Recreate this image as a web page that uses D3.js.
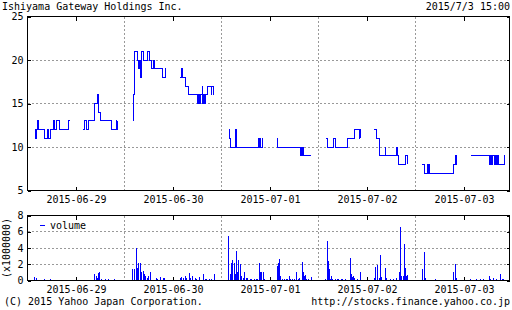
<!DOCTYPE html>
<html><head><meta charset="utf-8">
<script src="https://cdn.jsdelivr.net/npm/d3@7"></script>
<style>
html,body{margin:0;padding:0;background:#fff;}
svg{display:block;}
text{font-family:"DejaVu Sans Mono","Liberation Mono",monospace;font-size:10px;fill:#000;}
</style></head>
<body><svg id="c" width="512" height="310"></svg>
<script>
const title = "Ishiyama Gateway Holdings Inc.";
const stamp = "2015/7/3 15:00";
const days = ["2015-06-29","2015-06-30","2015-07-01","2015-07-02","2015-07-03"];
const priceTicks = [5,10,15,20,25];
const volTicks = [0,2,4,6,8];
const volUnit = "(x1000000)";
const copyright = "(C) 2015 Yahoo Japan Corporation.";
const url = "http://stocks.finance.yahoo.co.jp";

// price: [fraction of day, price]; null = lunch break gap
const price0629 = [[0.075,12],[0.082,11],[0.090,12],[0.108,13],[0.116,12],[0.178,11],[0.202,12],[0.220,11],[0.240,12],[0.268,13],[0.275,12],[0.299,13],[0.333,12],[0.423,13],[0.433,13],
 null,[0.570,12],[0.591,13],[0.605,12],[0.629,13],[0.688,15],[0.718,16],[0.728,14],[0.749,13],[0.866,12],[0.914,13],[0.921,12],[0.925,13]];
const price0630 = [[0.084,13],[0.088,16],[0.106,21],[0.134,20],[0.144,19],[0.150,20],[0.155,19],[0.160,20],[0.165,19],[0.170,18],[0.175,20],[0.178,21],[0.199,20],[0.237,21],[0.258,20],[0.278,19],[0.299,20],[0.306,19],[0.392,18],[0.423,19],[0.428,19],
 null,[0.570,18],[0.591,19],[0.598,18],[0.626,17],[0.657,16],[0.749,15],[0.756,16],[0.761,15],[0.768,16],[0.773,15],[0.779,16],[0.801,15],[0.804,17],[0.808,15],[0.811,16],[0.815,15],[0.818,16],[0.823,15],[0.830,16],[0.859,17],[0.892,16],[0.897,17],[0.918,16],[0.921,16]];
const price0701 = [[0.075,12],[0.086,11],[0.096,10],[0.147,12],[0.155,10],[0.385,11],[0.390,10],[0.395,11],[0.402,10],[0.426,11],[0.431,11],
 null,[0.570,11],[0.582,10],[0.814,9],[0.822,10],[0.827,9],[0.840,10],[0.845,9],[0.925,9]];
const price0702 = [[0.075,11],[0.090,10],[0.158,11],[0.175,10],[0.299,11],[0.368,12],[0.418,11],[0.421,12],[0.424,11],[0.427,12],[0.430,11],
 null,[0.570,12],[0.598,11],[0.632,9],[0.686,10],[0.693,9],[0.804,10],[0.811,9],[0.828,8],[0.897,9],[0.918,8]];
const price0703 = [[0.072,8],[0.090,7],[0.127,8],[0.132,7],[0.137,8],[0.142,7],[0.395,8],[0.409,9],[0.418,8],[0.426,9],
 null,[0.570,9],[0.766,8],[0.776,9],[0.784,8],[0.797,9],[0.811,8],[0.822,9],[0.838,8],[0.845,9],[0.859,8],[0.918,9],[0.925,9]];

// volume: [fraction of day, volume in millions]
const vol0629 = [[0.062,0.3],[0.072,0.4],[0.086,0.35],[0.165,0.2],[0.227,0.15],[0.268,0.05],[0.371,0.1],[0.402,0.1],[0.577,0.05],[0.608,0.05],[0.650,0.05],[0.688,0.8],[0.704,0.6],[0.714,0.3],[0.722,0.95],[0.735,1.05],[0.753,0.2],[0.784,0.1],[0.800,0.2],[0.825,0.2],[0.850,0.05],[0.887,0.15],[0.918,0.05]];
const vol0630 = [[0.082,1.4],[0.093,0.5],[0.103,1.4],[0.116,4.0],[0.129,1.6],[0.141,2.1],[0.155,2.15],[0.165,0.7],[0.175,1.1],[0.186,1.2],[0.196,0.8],[0.206,0.3],[0.216,0.6],[0.232,0.3],[0.247,0.5],[0.258,1.0],[0.268,1.0],[0.290,0.1],[0.320,0.3],[0.340,0.2],[0.371,0.4],[0.392,0.3],[0.412,0.3],
 [0.567,0.3],[0.582,0.4],[0.598,0.3],[0.619,0.5],[0.639,0.3],[0.663,0.9],[0.680,0.3],[0.701,0.5],[0.722,0.3],[0.742,0.2],[0.773,0.4],[0.807,0.75],[0.825,0.2],[0.845,0.15],[0.866,0.2],[0.887,0.2],[0.921,0.8]];
const vol0701 = [[0.072,5.45],[0.086,0.8],[0.098,2.2],[0.110,2.5],[0.124,2.1],[0.134,0.8],[0.147,3.6],[0.160,1.0],[0.172,2.5],[0.186,2.0],[0.196,0.5],[0.206,0.3],[0.222,0.3],[0.237,1.0],[0.253,0.3],[0.268,0.3],[0.289,0.2],[0.309,0.2],[0.330,0.2],[0.351,0.15],[0.368,0.2],[0.385,2.1],[0.395,1.0],[0.412,1.1],[0.426,1.0],[0.443,0.2],
 [0.567,1.8],[0.581,2.2],[0.595,2.65],[0.608,0.5],[0.626,0.2],[0.643,0.2],[0.660,0.2],[0.677,0.2],[0.698,0.6],[0.711,0.2],[0.729,0.2],[0.746,0.2],[0.770,1.1],[0.787,0.2],[0.804,0.3],[0.825,2.3],[0.838,1.0],[0.849,0.5],[0.863,0.7],[0.876,0.2],[0.894,0.2],[0.918,0.4]];
const vol0702 = [[0.072,0.2],[0.086,4.86],[0.096,2.4],[0.106,1.4],[0.116,0.2],[0.131,0.6],[0.144,0.2],[0.165,0.2],[0.186,0.2],[0.206,0.2],[0.227,0.2],[0.247,0.2],[0.268,0.2],[0.323,2.8],[0.337,0.8],[0.347,0.4],[0.358,0.6],[0.371,0.3],[0.392,0.2],[0.426,1.1],
 [0.570,0.3],[0.585,1.7],[0.598,0.2],[0.608,1.9],[0.619,0.3],[0.639,3.1],[0.649,0.4],[0.684,1.6],[0.694,0.3],[0.711,0.1],[0.732,0.2],[0.753,0.1],[0.773,0.2],[0.794,0.3],[0.828,1.0],[0.838,6.55],[0.853,0.6],[0.866,0.5],[0.880,4.5],[0.890,1.5],[0.904,0.5],[0.914,0.7]];
const vol0703 = [[0.069,1.4],[0.086,3.5],[0.100,0.3],[0.113,0.1],[0.134,0.1],[0.155,0.1],[0.175,0.1],[0.203,0.2],[0.227,0.1],[0.258,0.1],[0.289,0.1],[0.320,0.1],[0.351,0.1],[0.371,0.1],[0.389,1.0],[0.402,2.0],[0.415,0.3],
 [0.557,0.2],[0.626,0.2],[0.660,0.2],[0.691,0.2],[0.722,0.1],[0.756,0.5],[0.770,0.2],[0.797,0.3],[0.832,0.2],[0.866,0.8],[0.887,0.2],[0.907,0.2]];

const priceByDay = [price0629, price0630, price0701, price0702, price0703];
const volByDay = [vol0629, vol0630, vol0701, vol0702, vol0703];

const BLUE = "#0000ff";
const svg = d3.select("#c");

const x = d3.scaleLinear().domain([0, 4.969]).range([27.5, 509.5]);
const yP = d3.scaleLinear().domain([5, 25]).range([190.5, 16.5]);
const yV = d3.scaleLinear().domain([0, 8]).range([280.5, 215.5]);

// flatten series
const pricePts = [];
priceByDay.forEach((arr, i) => { arr.forEach(d => pricePts.push(d ? {t: i + d[0], v: d[1]} : null)); pricePts.push(null); });
const volPts = [];
volByDay.forEach((arr, i) => arr.forEach(d => volPts.push({t: i + d[0], v: d[1]})));

const dayBounds = d3.range(1, days.length);
const mid = days.map((d, i) => i + 0.5);

function panel(y, gridVals, top, bottom) {
  const g = svg.append("g");
  g.selectAll("line.gh").data(gridVals).join("line")
    .attr("x1", x.range()[0]).attr("x2", x.range()[1])
    .attr("y1", d => Math.round(y(d) - 0.5) + 0.5).attr("y2", d => Math.round(y(d) - 0.5) + 0.5)
    .attr("stroke", "#999").attr("stroke-dasharray", "2,2").attr("shape-rendering", "crispEdges");
  g.selectAll("line.gv").data(dayBounds).join("line")
    .attr("x1", d => x(d)).attr("x2", d => x(d))
    .attr("y1", top).attr("y2", bottom)
    .attr("stroke", "#999").attr("stroke-dasharray", "2,2").attr("shape-rendering", "crispEdges");
  return g;
}

// price panel
panel(yP, [10, 15, 20], yP(25), yP(5));
const line = d3.line().defined(d => d).x(d => x(d.t)).y(d => yP(d.v)).curve(d3.curveStepAfter);
svg.append("path").datum(pricePts).attr("d", line)
  .attr("fill", "none").attr("stroke", BLUE).attr("stroke-width", 1).attr("shape-rendering", "crispEdges");

// volume panel
panel(yV, [2, 4, 6], yV(8), yV(0));
svg.append("g").selectAll("rect").data(volPts).join("rect")
  .attr("x", d => Math.round(x(d.t)))
  .attr("width", 1)
  .attr("y", d => Math.min(yV(d.v), yV(0) - 1))
  .attr("height", d => Math.max(yV(0) - yV(d.v), 1))
  .attr("fill", BLUE).attr("shape-rendering", "crispEdges");

// axes
function axes(y, vals, fmtY) {
  const [y0, y1] = y.range();
  const gb = svg.append("g").attr("transform", `translate(0,${y0})`)
    .call(d3.axisBottom(x).tickValues(mid).tickFormat((d, i) => days[i]).tickSize(-4).tickPadding(5));
  const gt = svg.append("g").attr("transform", `translate(0,${y1})`)
    .call(d3.axisTop(x).tickValues(mid).tickFormat("").tickSize(-4));
  const gl = svg.append("g").attr("transform", `translate(${x.range()[0]},0)`)
    .call(d3.axisLeft(y).tickValues(vals).tickFormat(fmtY).tickSize(-3).tickPadding(4));
  const gr = svg.append("g").attr("transform", `translate(${x.range()[1]},0)`)
    .call(d3.axisRight(y).tickValues(vals).tickFormat("").tickSize(-3));
  [gb, gt, gl, gr].forEach(g => {
    g.select(".domain").remove();
    g.selectAll("line").attr("stroke", "#000").attr("shape-rendering", "crispEdges");
    g.selectAll("text").attr("font-family", null).attr("font-size", null).attr("fill", "#000");
  });
  svg.append("rect").attr("x", x.range()[0]).attr("y", y1)
    .attr("width", x.range()[1] - x.range()[0]).attr("height", y0 - y1)
    .attr("fill", "none").attr("stroke", "#000").attr("shape-rendering", "crispEdges");
}
axes(yP, priceTicks, d => d);
axes(yV, volTicks, d => d);

// legend
svg.append("line").attr("x1", 40).attr("x2", 45).attr("y1", 225.5).attr("y2", 225.5)
  .attr("stroke", BLUE).attr("shape-rendering", "crispEdges");
svg.append("text").attr("x", 50).attr("y", 228.5).text("volume");

// unit label
svg.append("text").attr("transform", "translate(10,248) rotate(-90)").attr("text-anchor", "middle").text(volUnit);

// header/footer
svg.append("text").attr("x", 2).attr("y", 10).text(title);
svg.append("text").attr("x", 510).attr("y", 10).attr("text-anchor", "end").text(stamp);
svg.append("text").attr("x", 4).attr("y", 305).text(copyright);
svg.append("text").attr("x", 510).attr("y", 305).attr("text-anchor", "end").text(url);
</script></body></html>
